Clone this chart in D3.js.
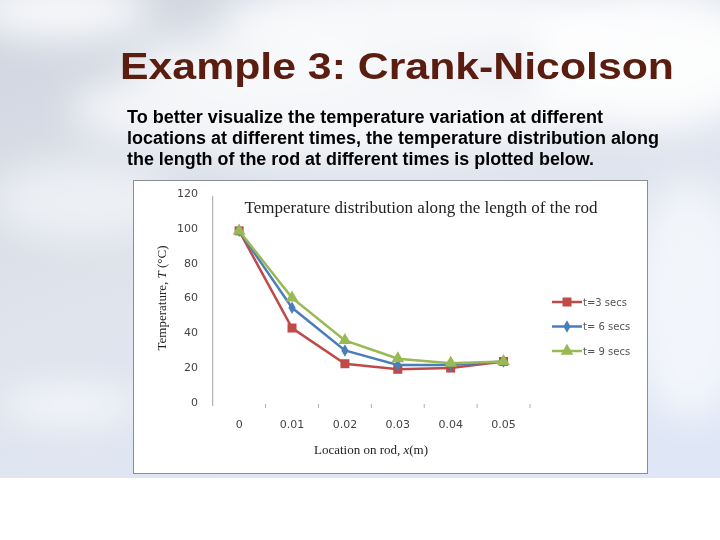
<html>
<head>
    <style>
        body { margin: 0; background: #fff; }
        svg { display: block; }
    </style>
    <script src="https://cdn.jsdelivr.net/npm/d3@7"></script>
</head>
<body>
    <svg id="container" width="720" height="540"></svg>
</body>
<script>
    // data
    let locations = ["0", "0.01", "0.02", "0.03", "0.04", "0.05"]
    let t3 = [100, 44.2, 23.7, 20.5, 21.2, 25]
    let t6 = [100, 55.8, 31.3, 23.0, 22.9, 25]
    let t9 = [100, 61.5, 37.1, 26.6, 24.0, 25]
    let seriesNames = ["t=3 secs", "t= 6 secs", "t= 9 secs"]
    let yTicks = [0, 20, 40, 60, 80, 100, 120]

    let svg = d3.select("#container")

    // slide background (sky)
    let defs = svg.append("defs")
    let grad = defs.append("linearGradient").attr("id", "sky")
        .attr("x1", 0).attr("y1", 0).attr("x2", 0.6).attr("y2", 1)
    grad.append("stop").attr("offset", 0).attr("stop-color", "#cfd5df")
    grad.append("stop").attr("offset", 0.5).attr("stop-color", "#dfe4ec")
    grad.append("stop").attr("offset", 1).attr("stop-color", "#dfe7f6")
    defs.append("filter").attr("id", "blur")
        .attr("x", "-50%").attr("y", "-50%").attr("width", "200%").attr("height", "200%")
        .append("feGaussianBlur").attr("stdDeviation", 18)

    svg.append("rect").attr("width", 720).attr("height", 478).attr("fill", "url(#sky)")
    let clouds = svg.append("g").attr("filter", "url(#blur)")
    let puffs = [[60, 10, 90, 30, 0.8], [420, 20, 200, 40, 0.8], [650, 60, 120, 70, 0.9],
                 [330, 110, 260, 50, 0.7], [80, 200, 90, 40, 0.5], [70, 405, 70, 18, 0.7],
                 [690, 300, 60, 120, 0.6], [250, 60, 120, 30, 0.6]]
    clouds.selectAll("ellipse").data(puffs).enter().append("ellipse")
        .attr("cx", d => d[0]).attr("cy", d => d[1])
        .attr("rx", d => d[2]).attr("ry", d => d[3])
        .attr("fill", "#fff").attr("opacity", d => d[4])

    // slide title + text
    svg.append("text")
        .attr("x", 120).attr("y", 79)
        .attr("textLength", 554).attr("lengthAdjust", "spacingAndGlyphs")
        .style("font-family", "Liberation Sans, Arial, sans-serif")
        .style("font-weight", "bold").style("font-size", "37px")
        .attr("fill", "#5b1d10")
        .text("Example 3: Crank-Nicolson")

    let lines = [
        ["To better visualize the temperature variation at different", 476],
        ["locations at different times, the temperature distribution along", 532],
        ["the length of the rod at different times is plotted below.", 467]
    ]
    svg.selectAll("text.para").data(lines).enter().append("text")
        .attr("class", "para")
        .attr("x", 127).attr("y", (d, i) => 123 + i * 21)
        .attr("textLength", d => d[1]).attr("lengthAdjust", "spacingAndGlyphs")
        .style("font-family", "Liberation Sans, Arial, sans-serif")
        .style("font-weight", "bold").style("font-size", "17.5px")
        .attr("fill", "#000")
        .text(d => d[0])

    // chart box
    svg.append("rect")
        .attr("x", 133.5).attr("y", 180.5).attr("width", 514).attr("height", 293)
        .attr("fill", "#fff").attr("stroke", "#8a8d93").attr("stroke-width", 1)

    let x = d3.scaleBand().domain(locations).range([212.7, 530])
    let y = d3.scaleLinear().domain([0, 120]).range([405, 196])
    let cx = d => x(d) + x.bandwidth() / 2

    let body = svg.append("g")

    // y axis
    body.append("line")
        .attr("x1", 212.7).attr("x2", 212.7).attr("y1", 196).attr("y2", 406)
        .attr("stroke", "#a6a6a6")
    body.selectAll("text.ytick").data(yTicks).enter().append("text")
        .attr("class", "ytick")
        .attr("x", 198).attr("y", d => y(d) - 3).attr("dy", "0.35em")
        .attr("text-anchor", "end")
        .style("font-family", "DejaVu Sans, sans-serif").style("font-size", "11px")
        .attr("fill", "#444")
        .text(d => d)

    // x axis ticks between categories
    body.selectAll("line.xtick").data(locations).enter().append("line")
        .attr("class", "xtick")
        .attr("x1", d => x(d) + x.bandwidth()).attr("x2", d => x(d) + x.bandwidth())
        .attr("y1", 404).attr("y2", 408)
        .attr("stroke", "#b0b0b0")
    body.selectAll("text.xtick").data(locations).enter().append("text")
        .attr("class", "xtick")
        .attr("x", cx).attr("y", 428)
        .attr("text-anchor", "middle")
        .style("font-family", "DejaVu Sans, sans-serif").style("font-size", "11px")
        .attr("fill", "#444")
        .text(d => d)

    // titles
    body.append("text")
        .attr("x", 421).attr("y", 213)
        .attr("text-anchor", "middle")
        .attr("textLength", 353).attr("lengthAdjust", "spacingAndGlyphs")
        .style("font-family", "Liberation Serif, serif").style("font-size", "16px")
        .attr("fill", "#222")
        .text("Temperature distribution along the length of the rod")

    let xt = body.append("text")
        .attr("x", 371).attr("y", 454)
        .attr("text-anchor", "middle")
        .style("font-family", "Liberation Serif, serif").style("font-size", "13px")
        .attr("fill", "#222")
    xt.append("tspan").text("Location on rod, ")
    xt.append("tspan").style("font-style", "italic").text("x")
    xt.append("tspan").text("(m)")

    let yt = body.append("text")
        .attr("transform", "translate(166,298) rotate(-90)")
        .attr("text-anchor", "middle")
        .style("font-family", "Liberation Serif, serif").style("font-size", "13px")
        .attr("fill", "#222")
    yt.append("tspan").text("Temperature, ")
    yt.append("tspan").style("font-style", "italic").text("T")
    yt.append("tspan").text(" (\u00B0C)")

    // series
    let series = [
        { name: seriesNames[0], values: t3, color: "#be4b48", symbol: d3.symbolSquare, size: 81 },
        { name: seriesNames[1], values: t6, color: "#4a7ebb", symbol: d3.symbolDiamond, size: 45 },
        { name: seriesNames[2], values: t9, color: "#98b954", symbol: d3.symbolTriangle, size: 70 }
    ]

    let line = d3.line()
        .x((d, i) => cx(locations[i]))
        .y(d => y(d))

    series.forEach(s => {
        let g = body.append("g")
        g.append("path")
            .attr("d", line(s.values))
            .attr("fill", "none")
            .attr("stroke", s.color)
            .attr("stroke-width", 2.5)
        g.selectAll("path.pt").data(s.values).enter().append("path")
            .attr("class", "pt")
            .attr("transform", (d, i) => `translate(${cx(locations[i])},${y(d)})`)
            .attr("d", d3.symbol().type(s.symbol).size(s.size))
            .attr("fill", s.color)
    })

    // legend
    let legend = body.selectAll("g.legend").data(series).enter().append("g")
        .attr("class", "legend")
        .attr("transform", (d, i) => `translate(552,${302 + i * 24.5})`)
    legend.append("line")
        .attr("x1", 0).attr("x2", 30)
        .attr("stroke", d => d.color).attr("stroke-width", 2.5)
    legend.append("path")
        .attr("transform", "translate(15,0)")
        .attr("d", d => d3.symbol().type(d.symbol).size(d.size)())
        .attr("fill", d => d.color)
    legend.append("text")
        .attr("x", 31).attr("dy", "0.35em")
        .style("font-family", "DejaVu Sans, sans-serif").style("font-size", "10px")
        .attr("fill", "#555")
        .text(d => d.name)
</script>
</html>
